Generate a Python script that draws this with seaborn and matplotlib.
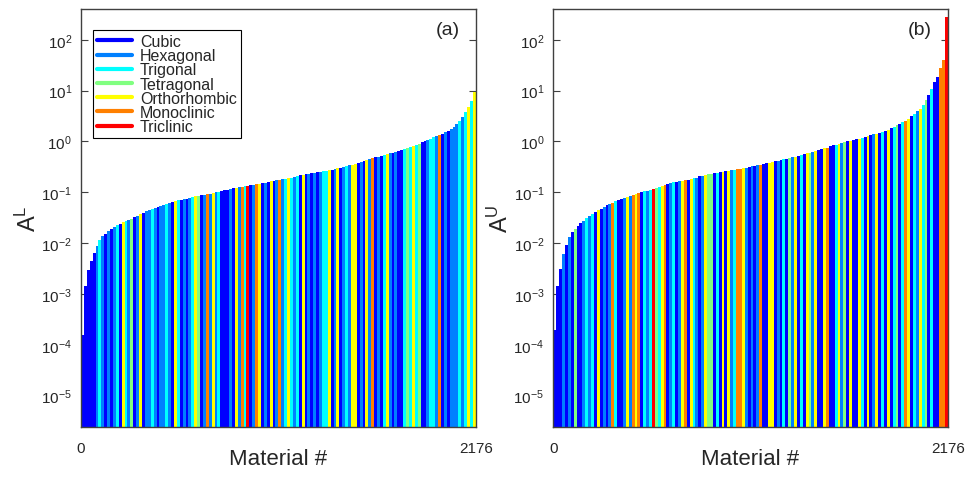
import numpy as np
import pandas as pd
import matplotlib
matplotlib.use("Agg")
import matplotlib.pyplot as plt
from matplotlib.lines import Line2D
from matplotlib.ticker import FixedLocator, NullLocator, LogFormatterSciNotation
import seaborn as sns

n_materials = 2176
bin_size = 16  # each bar stands for 16 neighbouring (sorted) materials

systems = ["Cubic", "Hexagonal", "Trigonal", "Tetragonal",
           "Orthorhombic", "Monoclinic", "Triclinic"]
system_colors = ["#0000ff", "#0080ff", "#00ffff", "#80ff80",
                 "#ffff00", "#ff8000", "#ff0000"]
y_decades = [-5, -4, -3, -2, -1, 0, 1, 2]

# log10 of the sorted index (one value per 16 materials)
log_AL = [
    -3.80, -2.85, -2.53, -2.35, -2.20, -2.05, -1.93, -1.87, -1.82, -1.77,
    -1.73, -1.69, -1.65, -1.62, -1.59, -1.56, -1.54, -1.52, -1.49, -1.46,
    -1.43, -1.40, -1.37, -1.35, -1.33, -1.31, -1.29, -1.27, -1.25, -1.23,
    -1.21, -1.19, -1.18, -1.16, -1.15, -1.14, -1.13, -1.11, -1.10, -1.08,
    -1.07, -1.06, -1.05, -1.04, -1.03, -1.01, -1.00, -0.99, -0.97, -0.96,
    -0.95, -0.93, -0.92, -0.91, -0.90, -0.89, -0.88, -0.87, -0.86, -0.85,
    -0.84, -0.83, -0.82, -0.81, -0.79, -0.78, -0.77, -0.76, -0.75, -0.74,
    -0.73, -0.72, -0.71, -0.70, -0.68, -0.67, -0.66, -0.65, -0.64, -0.63,
    -0.62, -0.61, -0.60, -0.59, -0.58, -0.57, -0.56, -0.55, -0.53, -0.52,
    -0.50, -0.49, -0.47, -0.46, -0.44, -0.42, -0.40, -0.38, -0.36, -0.35,
    -0.33, -0.31, -0.30, -0.28, -0.27, -0.25, -0.23, -0.22, -0.20, -0.19,
    -0.17, -0.15, -0.13, -0.11, -0.09, -0.07, -0.05, -0.02, 0.00, 0.03,
    0.05, 0.08, 0.11, 0.13, 0.15, 0.18, 0.21, 0.25, 0.29, 0.34,
    0.41, 0.48, 0.57, 0.67, 0.80, 0.97,
]
log_AU = [
    -3.70, -2.85, -2.50, -2.21, -2.04, -1.88, -1.79, -1.72, -1.66, -1.61,
    -1.56, -1.51, -1.46, -1.42, -1.38, -1.35, -1.32, -1.29, -1.26, -1.23,
    -1.21, -1.18, -1.16, -1.14, -1.11, -1.09, -1.07, -1.05, -1.03, -1.02,
    -1.00, -0.98, -0.97, -0.95, -0.94, -0.92, -0.90, -0.88, -0.86, -0.84,
    -0.82, -0.80, -0.79, -0.78, -0.77, -0.76, -0.75, -0.74, -0.72, -0.71,
    -0.69, -0.68, -0.66, -0.65, -0.64, -0.63, -0.62, -0.61, -0.60, -0.59,
    -0.58, -0.57, -0.56, -0.55, -0.54, -0.53, -0.52, -0.51, -0.49, -0.48,
    -0.47, -0.46, -0.45, -0.43, -0.42, -0.40, -0.39, -0.38, -0.36, -0.35,
    -0.34, -0.32, -0.31, -0.30, -0.28, -0.27, -0.25, -0.23, -0.22, -0.20,
    -0.18, -0.17, -0.15, -0.13, -0.12, -0.10, -0.08, -0.07, -0.05, -0.04,
    -0.02, 0.00, 0.01, 0.02, 0.04, 0.05, 0.07, 0.09, 0.10, 0.12,
    0.14, 0.15, 0.17, 0.19, 0.21, 0.23, 0.26, 0.29, 0.32, 0.35,
    0.38, 0.41, 0.45, 0.49, 0.54, 0.59, 0.64, 0.72, 0.81, 0.92,
    1.03, 1.17, 1.27, 1.45, 1.60, 2.45,
]

# crystal system of each bar, as index into `systems`
sys_AL = ("0000012101" "0120421301" "4011210112" "1042010124" "3015141200"
          "0104152601" "5401040151" "2421204010" "1012240140" "1214401041"
          "5010241010" "0232423001" "2215010111" "212424")
sys_AU = ("0001010300" "1212040101" "5200141545" "0212632450" "1201450421"
          "0143302040" "4125541010" "1500440102" "0314020431" "4004500241"
          "3040042040" "1402040230" "2540214230" "200556")

sns.set_style("white")
plt.rcParams["font.family"] = ["Liberation Sans", "DejaVu Sans"]
plt.rcParams["axes.unicode_minus"] = False

edge_gray = "#404040"


def panel_frame(log_vals, codes):
    centers = np.arange(len(log_vals)) * bin_size + bin_size / 2
    return pd.DataFrame({
        "material": centers,
        "value": 10.0 ** np.asarray(log_vals),
        "system": [systems[int(c)] for c in codes],
    })


def draw_panel(ax, log_vals, codes, ylabel, tag):
    df = panel_frame(log_vals, codes)
    sns.barplot(data=df, x="material", y="value", hue="system",
                hue_order=systems, palette=dict(zip(systems, system_colors)),
                native_scale=True, width=1, dodge=False, saturation=1,
                errorbar=None, legend=False, linewidth=0, antialiased=False,
                ax=ax)
    ax.set_yscale("log")
    ax.set_ylim(10 ** -5.617, 10 ** 2.604)
    ax.set_xlim(0, n_materials)
    ax.set_xticks([0, n_materials])
    ax.set_xticklabels(["0", str(n_materials)])
    ax.yaxis.set_major_locator(FixedLocator([10.0 ** d for d in y_decades]))
    ax.yaxis.set_minor_locator(NullLocator())
    ax.yaxis.set_major_formatter(LogFormatterSciNotation())

    ax.tick_params(axis="y", which="major", direction="in", length=5,
                   left=True, right=True, labelsize=11, pad=6.5,
                   color=edge_gray)
    ax.tick_params(axis="x", length=0, labelsize=11, pad=10)

    for side in ["top", "right", "bottom", "left"]:
        ax.spines[side].set_visible(True)
        ax.spines[side].set_color(edge_gray)
        ax.spines[side].set_linewidth(1)

    ax.set_xlabel("Material #", fontsize=16)
    ax.xaxis.set_label_coords(0.5, -0.05)
    ax.set_ylabel(ylabel, fontsize=17)
    ax.yaxis.set_label_coords(-0.102, 0.5)
    ax.text(0.93, 0.952, tag, transform=ax.transAxes, ha="center",
            va="center", fontsize=14)


fig = plt.figure(figsize=(9.66, 4.81), dpi=100)
ax_a = fig.add_axes([0.0839, 0.1102, 0.4086, 0.8690])
ax_b = fig.add_axes([0.5728, 0.1102, 0.4083, 0.8690])

draw_panel(ax_a, log_AL, sys_AL, r"$\mathregular{A^L}$", "(a)")
draw_panel(ax_b, log_AU, sys_AU, r"$\mathregular{A^U}$", "(b)")

handles = [Line2D([], [], color=c, lw=3) for c in system_colors]
leg = ax_a.legend(handles, systems, loc="upper left",
                  bbox_to_anchor=(0.030, 0.950), fontsize=11.5, frameon=True,
                  fancybox=False, edgecolor="black", framealpha=1,
                  borderpad=0.25, labelspacing=-0.05, handlelength=2.2,
                  handletextpad=0.5, borderaxespad=0)
leg.get_frame().set_linewidth(0.8)

fig.savefig("out.png", dpi=100)
